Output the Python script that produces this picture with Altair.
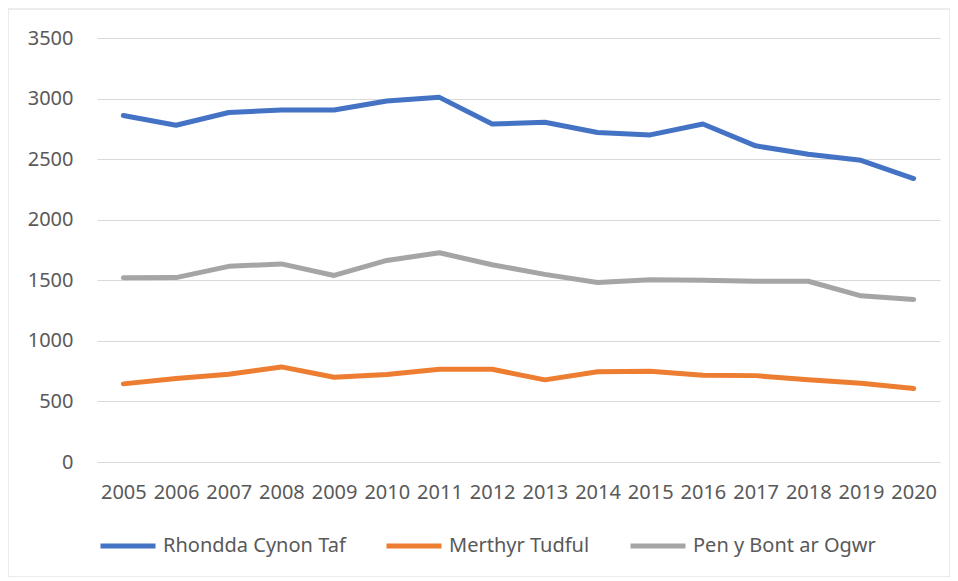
import altair as alt
import pandas as pd

years = ["2005", "2006", "2007", "2008", "2009", "2010", "2011", "2012",
         "2013", "2014", "2015", "2016", "2017", "2018", "2019", "2020"]
rhondda = [2860, 2780, 2885, 2905, 2905, 2980, 3010, 2790, 2805, 2720, 2700, 2790, 2610, 2540, 2490, 2340]
merthyr = [645, 690, 725, 785, 700, 722, 765, 765, 678, 745, 750, 716, 713, 678, 650, 607]
penybont = [1520, 1522, 1615, 1635, 1540, 1664, 1727, 1628, 1549, 1482, 1505, 1500, 1492, 1492, 1372, 1342]

series_names = ["Rhondda Cynon Taf", "Merthyr Tudful", "Pen y Bont ar Ogwr"]
series_colors = ["#4472C4", "#ED7D31", "#A5A5A5"]
y_ticks = [0, 500, 1000, 1500, 2000, 2500, 3000, 3500]

rows = []
for name, vals in zip(series_names, [rhondda, merthyr, penybont]):
    for yr, v in zip(years, vals):
        rows.append({"Year": yr, "Value": v, "Series": name})
df = pd.DataFrame(rows)

FONT = "Noto Sans"
W, H = 843, 424

lines = alt.Chart(df).mark_line(strokeWidth=5, strokeCap="round", strokeJoin="round").encode(
    x=alt.X("Year:O", sort=years,
            scale=alt.Scale(type="point", padding=0.5),
            axis=alt.Axis(title=None, labelAngle=0, domain=False, ticks=False, grid=False,
                          labelFontSize=20, labelFont=FONT, labelColor="#595959",
                          labelPadding=20)),
    y=alt.Y("Value:Q", scale=alt.Scale(domain=[0, 3500], nice=False),
            axis=alt.Axis(title=None, values=y_ticks, format="d", domain=False, ticks=False,
                          labelFontSize=20, labelFont=FONT, labelColor="#595959",
                          labelPadding=24, gridColor="#D9D9D9", gridWidth=1.2)),
    color=alt.Color("Series:N", sort=series_names,
                    scale=alt.Scale(domain=series_names, range=series_colors),
                    legend=alt.Legend(title=None, orient="none", direction="horizontal",
                                      legendX=1, legendY=478,
                                      symbolType="stroke", symbolSize=3025,
                                      symbolStrokeWidth=5, labelFont=FONT,
                                      labelFontSize=20, labelColor="#595959",
                                      labelLimit=400,
                                      labelOffset=5, columnPadding=30)),
)

border = alt.Chart(pd.DataFrame({"a": [0]})).mark_rect(
    fill="white", fillOpacity=0, stroke="#D9D9D9", strokeWidth=1
).encode(
    x=alt.value(-89), x2=alt.value(853), y=alt.value(-29), y2=alt.value(539)
)

chart = alt.layer(border, lines).properties(
    width=W, height=H,
    padding={"left": 89, "top": 30, "right": 10, "bottom": 115},
    autosize=alt.AutoSizeParams(type="none"),
    background="white",
).configure_view(stroke=None)

chart.save("out.html", embed_options={"renderer": "svg", "actions": False})
